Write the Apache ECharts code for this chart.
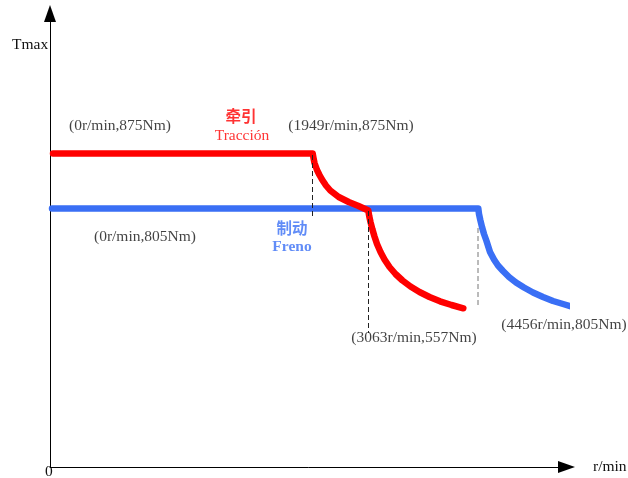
<!DOCTYPE html>
<html>
<head>
<meta charset="utf-8">
<script src="https://cdn.jsdelivr.net/npm/echarts@6/dist/echarts.min.js"></script>
<style>html,body{margin:0;padding:0;background:#fff}#c{width:628px;height:478px}</style>
</head>
<body>
<div id="c"></div>
<script>
// Chart units (x: along speed axis, y: along torque axis)
const tractionCurve = [
  [3,313.5],[262.7,313.5],[263.5,309],[264.5,304],[267,297],[269.5,292],[272,287.5],[276,281.5],[280.3,276.5],
  [288.7,270],[298.7,265],[308,261.3],[318.3,256.5],
  [319.2,251],[320.5,245],[322.3,238],[324.5,230.5],[327,223],[330.5,215],[334.5,207.5],[339.5,200],
  [345.5,193],[352.5,186.5],[360.5,180.5],[369.5,175],[379.5,170],[390,165.7],[401.5,162],[413.3,158.7]
];
const brakeCurve = [
  [2,258.5],[428.3,258.5],[429,253],[430.3,247],[432,240],[434,233],[436.5,226],[440,215],[444,207.5],
  [448,201.5],[453,196],[459,190],[466,184.5],[474,179.5],[483,174.5],[493,170],[503,166],[513,163],[522,160.3]
];
const dashedGuides = [
  [[262.5,312],[262.5,249]],
  [[318.5,256],[318.5,134]],
  [[428,239],[428,159]]
];
const pointLabels = ['(0r/min,875Nm)','(1949r/min,875Nm)','(0r/min,805Nm)','(3063r/min,557Nm)','(4456r/min,805Nm)'];
const pointLabelAnchors = [[70,341],[301,341],[95,230],[364,129],[514,142]];
const tractionTitle = ['牵引','Tracción'];
const tractionTitleAnchors = [[191,351],[192,331]];
const brakeTitle = ['制动','Freno'];
const brakeTitleAnchors = [[242,239],[242,220]];

const RED = '#ff0000', BLUE = '#3a6ff5';
const serif = '"Liberation Serif","DejaVu Serif",serif';
const cjk = '"Noto Sans CJK SC",sans-serif';

const labelData = [];
pointLabels.forEach((t,i)=>labelData.push({name:t,value:pointLabelAnchors[i],label:{color:'#111',fontFamily:serif,fontSize:15.5}}));
tractionTitle.forEach((t,i)=>labelData.push({name:t,value:tractionTitleAnchors[i],label:{color:RED,fontFamily:i===0?cjk:serif,fontWeight:i===0?'bold':'normal',fontSize:15.5}}));
brakeTitle.forEach((t,i)=>labelData.push({name:t,value:brakeTitleAnchors[i],label:{color:BLUE,fontFamily:i===0?cjk:serif,fontWeight:'bold',fontSize:15.5}}));

const guideColors = ['#222','#222','#777'];
const series = [
  {type:'line',data:brakeCurve,symbol:'none',z:3,lineStyle:{color:BLUE,width:6.5,cap:'round',join:'round'}},
  {type:'line',data:tractionCurve,symbol:'none',z:4,lineStyle:{color:RED,width:6.5,cap:'round',join:'round'}}
];
dashedGuides.forEach((g,i)=>series.push({type:'line',data:g,symbol:'none',z:5,lineStyle:{color:guideColors[i],width:1,type:[5,3]}}));
series.push({type:'scatter',data:labelData,symbolSize:0,z:6,label:{show:true,position:'inside',formatter:'{b}'}});

const chart = echarts.init(document.getElementById('c'),null,{renderer:'canvas'});
chart.setOption({
  animation:false,
  backgroundColor:'#fff',
  grid:{left:50,top:13.5,right:61.5,bottom:11,containLabel:false},
  xAxis:{type:'value',min:0,max:516.5,axisLine:{show:true,onZero:false,lineStyle:{color:'#000',width:1},symbol:['none','triangle'],symbolSize:[12,17]},axisTick:{show:false},axisLabel:{show:false},splitLine:{show:false}},
  yAxis:{type:'value',min:0,max:453.5,axisLine:{show:true,onZero:false,lineStyle:{color:'#000',width:1},symbol:['none','triangle'],symbolSize:[12,17]},axisTick:{show:false},axisLabel:{show:false},splitLine:{show:false}},
  graphic:[
    {type:'text',left:12,top:37,style:{text:'Tmax',fill:'#111',font:'15.5px '+serif}},
    {type:'text',left:593,top:459,style:{text:'r/min',fill:'#111',font:'15.5px '+serif}},
    {type:'text',left:45,top:464,style:{text:'0',fill:'#111',font:'15.5px '+serif}}
  ],
  series
});
</script>
</body>
</html>
